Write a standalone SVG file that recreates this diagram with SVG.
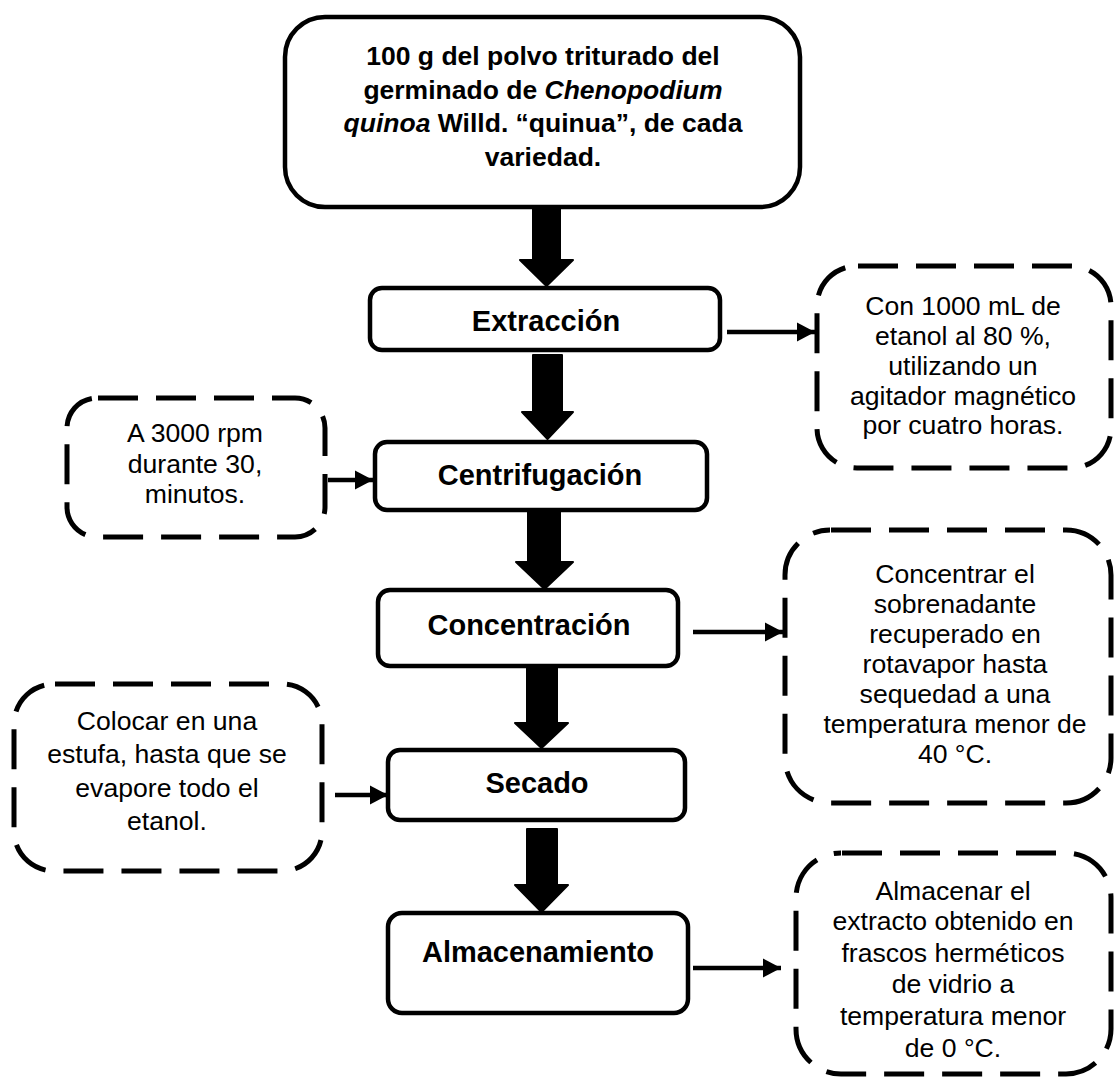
<svg xmlns="http://www.w3.org/2000/svg" width="1114" height="1077" viewBox="0 0 1114 1077">
  <style>
    .step { fill: #fff; stroke: #000; stroke-width: 4.5; }
    .note { fill: #fff; stroke: #000; stroke-width: 5; stroke-dasharray: 40 18; }
    .bold { font-family: "Liberation Sans", Arial, sans-serif; font-weight: bold; fill: #000; text-anchor: middle; }
    .reg { font-family: "Liberation Sans", Arial, sans-serif; font-size: 26.6px; fill: #000; text-anchor: middle; }
    .thick { fill: #000; stroke: #000; stroke-width: 2; stroke-linejoin: round; }
    .thin { stroke: #000; stroke-width: 4.5; fill: none; }
  </style>
  <defs>
    <marker id="head" markerUnits="userSpaceOnUse" markerWidth="20" markerHeight="22" refX="18" refY="11" orient="auto">
      <path d="M0,1.5 L18,11 L0,20.5 Z" fill="#000"/>
    </marker>
  </defs>

  <rect width="1114" height="1077" fill="#fff"/>

  <!-- connectors -->
  <g id="connectors">
    <path class="thick" d="M533,205 H560 V260 H573 L546.5,286 L520,260 H533 Z"/>
    <path class="thick" d="M533,355 H562 V412 H573 L547.5,439 L522,412 H533 Z"/>
    <path class="thick" d="M528,510 H560 V562 H573 L544.5,589 L516,562 H528 Z"/>
    <path class="thick" d="M527,667 H557 V723 H568 L541.5,748 L515,723 H527 Z"/>
    <path class="thick" d="M527,829 H557 V885 H568 L541.5,912 L515,885 H527 Z"/>
    <line class="thin" x1="727" y1="332" x2="815" y2="332" marker-end="url(#head)"/>
    <line class="thin" x1="328" y1="480" x2="373" y2="480" marker-end="url(#head)"/>
    <line class="thin" x1="693" y1="632" x2="783" y2="632" marker-end="url(#head)"/>
    <line class="thin" x1="335" y1="795" x2="388" y2="795" marker-end="url(#head)"/>
    <line class="thin" x1="693" y1="968" x2="781" y2="968" marker-end="url(#head)"/>
  </g>

  <!-- starting material -->
  <g id="start">
    <rect class="step" x="285" y="17" width="515" height="190" rx="40"/>
    <text class="bold" font-size="26.5" x="543" y="65">100 g del polvo triturado del</text>
    <text class="bold" font-size="26.5" x="543" y="98.5">germinado de <tspan font-style="italic">Chenopodium</tspan></text>
    <text class="bold" font-size="26.5" x="543" y="132"><tspan font-style="italic">quinoa</tspan> Willd. “quinua”, de cada</text>
    <text class="bold" font-size="26.5" x="543" y="165.5">variedad.</text>
  </g>

  <g id="extraccion">
    <rect class="step" x="370" y="288" width="350" height="62" rx="12"/>
    <text class="bold" font-size="29" x="546" y="331">Extracción</text>
  </g>

  <g id="centrifugacion">
    <rect class="step" x="375" y="442" width="332" height="68" rx="12"/>
    <text class="bold" font-size="29" x="540" y="485">Centrifugación</text>
  </g>

  <g id="concentracion">
    <rect class="step" x="378" y="590" width="300" height="76" rx="12"/>
    <text class="bold" font-size="29" x="529" y="635">Concentración</text>
  </g>

  <g id="secado">
    <rect class="step" x="388" y="750" width="297" height="70" rx="12"/>
    <text class="bold" font-size="29" x="537" y="793">Secado</text>
  </g>

  <g id="almacenamiento">
    <rect class="step" x="388" y="913" width="300" height="100" rx="14"/>
    <text class="bold" font-size="29" x="538" y="962">Almacenamiento</text>
  </g>

  <!-- condition notes -->
  <g id="nota-extraccion">
    <rect class="note" x="817" y="266" width="294" height="202" rx="40" stroke-dashoffset="57"/>
    <text class="reg" x="963" y="315">Con 1000 mL de</text>
    <text class="reg" x="963" y="345">etanol al 80 %,</text>
    <text class="reg" x="963" y="375">utilizando un</text>
    <text class="reg" x="963" y="405">agitador magnético</text>
    <text class="reg" x="963" y="434">por cuatro horas.</text>
  </g>

  <g id="nota-centrifugacion">
    <rect class="note" x="67" y="398" width="258" height="139" rx="30" stroke-dashoffset="57"/>
    <text class="reg" x="195" y="442">A 3000 rpm</text>
    <text class="reg" x="195" y="472.5">durante 30,</text>
    <text class="reg" x="195" y="503">minutos.</text>
  </g>

  <g id="nota-concentracion">
    <rect class="note" x="785" y="530" width="326" height="273" rx="45" stroke-dashoffset="57"/>
    <text class="reg" x="955" y="583">Concentrar el</text>
    <text class="reg" x="955" y="613">sobrenadante</text>
    <text class="reg" x="955" y="643">recuperado en</text>
    <text class="reg" x="955" y="673">rotavapor hasta</text>
    <text class="reg" x="955" y="703">sequedad a una</text>
    <text class="reg" x="955" y="733">temperatura menor de</text>
    <text class="reg" x="955" y="763">40 °C.</text>
  </g>

  <g id="nota-secado">
    <rect class="note" x="14" y="684" width="308" height="187" rx="40" stroke-dashoffset="57"/>
    <text class="reg" x="167" y="730">Colocar en una</text>
    <text class="reg" x="167" y="763">estufa, hasta que se</text>
    <text class="reg" x="167" y="797">evapore todo el</text>
    <text class="reg" x="167" y="830">etanol.</text>
  </g>

  <g id="nota-almacenamiento">
    <rect class="note" x="796" y="853" width="315" height="221" rx="45" stroke-dashoffset="57"/>
    <text class="reg" x="953" y="900">Almacenar el</text>
    <text class="reg" x="953" y="930">extracto obtenido en</text>
    <text class="reg" x="953" y="962">frascos herméticos</text>
    <text class="reg" x="953" y="993">de vidrio a</text>
    <text class="reg" x="953" y="1025">temperatura menor</text>
    <text class="reg" x="953" y="1057">de 0 °C.</text>
  </g>
</svg>
